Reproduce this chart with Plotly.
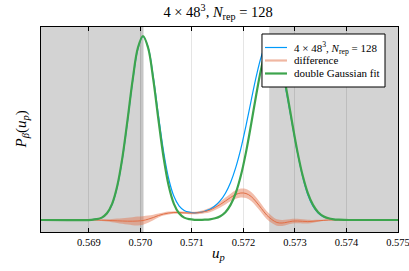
import plotly.graph_objects as go

# sample positions (u_p)
u_vals = [0.56807,
          0.56905, 0.56915, 0.56925, 0.56935, 0.56945, 0.56955, 0.56965, 0.56975, 0.56985, 0.56995,
          0.57005, 0.57015, 0.57025, 0.57035, 0.57045, 0.57055, 0.57065, 0.57075, 0.57085, 0.57095,
          0.57105, 0.57115, 0.57125, 0.57135, 0.57145, 0.57155, 0.57165, 0.57175, 0.57185, 0.57195,
          0.57205, 0.57215, 0.57225, 0.57235, 0.57245, 0.57255, 0.57265, 0.57275, 0.57285, 0.57295,
          0.57305, 0.57315, 0.57325, 0.57335, 0.57345, 0.57355, 0.57365, 0.57375, 0.57385, 0.57395,
          0.57405, 0.575]

hist_vals = [0.0,
             0.2, 0.8, 2.2, 6.3, 15.6, 33.2, 61.4, 98.9, 139.2, 171.0,
             183.5, 172.8, 142.9, 104.6, 68.4, 41.0, 23.7, 14.2, 9.6, 7.8,
             7.2, 7.6, 8.8, 10.7, 14.2, 19.3, 26.8, 37.6, 52.4, 71.4,
             94.4, 119.5, 143.8, 164.0, 176.3, 178.5, 168.8, 149.5, 123.6, 94.8,
             66.9, 43.1, 25.3, 13.8, 7.0, 3.4, 1.7, 0.7, 0.3, 0.1,
             0.0, 0.0]

fit_vals = [0.0,
            0.2, 0.8, 2.4, 6.7, 16.2, 34.0, 62.4, 100.1, 140.4, 172.0,
            184.0, 172.0, 140.4, 100.1, 62.4, 34.0, 16.2, 6.7, 2.4, 0.8,
            0.2, 0.1, 0.3, 0.7, 1.7, 3.8, 7.8, 15.1, 26.9, 44.4,
            67.9, 96.0, 125.8, 152.5, 171.3, 178.0, 171.3, 152.5, 125.8, 96.0,
            67.9, 44.4, 26.9, 15.1, 7.8, 3.8, 1.7, 0.7, 0.3, 0.1,
            0.0, 0.0]

diff_vals = [0.0,
             0.0, 0.0, -0.2, -0.4, -0.6, -0.8, -1.0, -1.2, -1.2, -1.0,
             -0.5, 0.8, 2.5, 4.5, 6.0, 7.0, 7.5, 7.5, 7.2, 7.0,
             7.0, 7.5, 8.5, 10.0, 12.5, 15.5, 19.0, 22.5, 25.5, 27.0,
             26.5, 23.5, 18.0, 11.5, 5.0, 0.5, -2.5, -3.0, -2.2, -1.2,
             -1.0, -1.3, -1.6, -1.3, -0.8, -0.4, 0.0, 0.0, 0.0, 0.0,
             0.0, 0.0]

diff_err = [0.3,
            0.3, 0.5, 0.8, 1.2, 1.7, 2.2, 2.8, 3.4, 4.0, 4.4,
            4.3, 3.6, 2.8, 2.0, 1.6, 1.4, 1.3, 1.2, 1.2, 1.2,
            1.3, 1.5, 1.8, 2.2, 2.6, 3.0, 3.4, 3.8, 4.2, 4.5,
            4.6, 4.6, 4.5, 4.3, 4.0, 3.6, 3.2, 2.9, 2.6, 2.4,
            2.3, 2.1, 1.8, 1.4, 1.0, 0.7, 0.5, 0.3, 0.3, 0.3,
            0.3, 0.3]

tick_vals = [0.569, 0.570, 0.571, 0.572, 0.573, 0.574, 0.575]
tick_text = ["0.569", "0.570", "0.571", "0.572", "0.573", "0.574", "0.575"]

series_names = ["4 × 48<sup>3</sup>, <i>N</i><sub>rep</sub> = 128",
                "difference", "double Gaussian fit"]

x_range = [0.56807, 0.5750004]
left_region = [0.56807, 0.57006]
right_region = [0.5725, 0.5750004]

BLUE = "#009afa"
ORANGE = "#e26f46"
GREEN = "#3da44d"
ORANGE_LIGHT = "rgba(226,111,70,0.5)"
SERIF = "Liberation Serif, DejaVu Serif, serif"

fig = go.Figure()

upper = [d + e for d, e in zip(diff_vals, diff_err)]
lower = [d - e for d, e in zip(diff_vals, diff_err)]
fig.add_trace(go.Scatter(
    x=u_vals + u_vals[::-1], y=upper + lower[::-1],
    fill="toself", fillcolor="rgba(226,111,70,0.45)",
    line=dict(width=0, shape="spline"), hoverinfo="skip", showlegend=False))

fig.add_trace(go.Scatter(
    x=u_vals, y=hist_vals, mode="lines", name=series_names[0], showlegend=False,
    line=dict(color=BLUE, width=1.2, shape="spline")))
fig.add_trace(go.Scatter(
    x=u_vals, y=diff_vals, mode="lines", name=series_names[1], showlegend=False,
    line=dict(color=ORANGE, width=1, shape="spline")))
fig.add_trace(go.Scatter(
    x=u_vals, y=fit_vals, mode="lines", name=series_names[2], showlegend=False,
    line=dict(color=GREEN, width=2.2, shape="spline")))

for x0, x1 in (left_region, right_region):
    fig.add_shape(type="rect", xref="x", yref="paper", x0=x0, x1=x1, y0=0, y1=1,
                  fillcolor="#d3d3d3", line=dict(width=0), layer="below")
fig.add_shape(type="rect", xref="x", yref="paper", x0=0.56999, x1=0.57006, y0=0, y1=1,
              fillcolor="rgba(0,0,0,0.06)", line=dict(width=0), layer="below")

# legend box (drawn in paper coordinates)
fig.add_shape(type="rect", xref="paper", yref="paper", x0=0.619, x1=0.9636,
              y0=0.7073, y1=0.9659, fillcolor="white",
              line=dict(color="black", width=1), layer="above")
legend_colors = [BLUE, ORANGE_LIGHT, GREEN]
legend_widths = [1.2, 2.2, 2.2]
legend_y = [0.900, 0.8366, 0.7732]
for name, col, w, ly in zip(series_names, legend_colors, legend_widths, legend_y):
    fig.add_shape(type="line", xref="paper", yref="paper", x0=0.6275, x1=0.689,
                  y0=ly, y1=ly, line=dict(color=col, width=w), layer="above")
    fig.add_annotation(xref="paper", yref="paper", x=0.703, y=ly, text=name,
                       showarrow=False, xanchor="left", yanchor="middle",
                       font=dict(size=11, family=SERIF, color="black"))

# axis titles
fig.add_annotation(xref="paper", yref="paper", x=0.496, y=-0.107,
                   text="<i>u</i><sub><i>p</i></sub>", showarrow=False,
                   xanchor="center", yanchor="middle",
                   font=dict(size=15, family=SERIF, color="black"))
fig.add_annotation(xref="paper", yref="paper", x=-0.056, y=0.5, textangle=-90,
                   text="<i>P</i><sub><i>β</i></sub>(<i>u</i><sub><i>p</i></sub>)",
                   showarrow=False, xanchor="center", yanchor="middle",
                   font=dict(size=15, family=SERIF, color="black"))

fig.update_layout(
    width=409, height=271,
    margin=dict(l=41, r=11, t=27, b=39, autoexpand=False),
    plot_bgcolor="white", paper_bgcolor="white",
    font=dict(family=SERIF, color="black"),
    showlegend=False,
    title=dict(text="4 × 48<sup>3</sup>, <i>N</i><sub>rep</sub> = 128",
               xref="paper", x=0.496, xanchor="center", y=0.955, yanchor="middle",
               font=dict(size=14.5, family=SERIF)),
    xaxis=dict(range=x_range, tickvals=tick_vals, ticktext=tick_text,
               ticks="inside", ticklen=4, tickcolor="black",
               ticklabeloverflow="allow", automargin=False,
               showline=True, linecolor="black", linewidth=1, mirror="allticks",
               showgrid=True, gridcolor="rgba(0,0,0,0.1)", gridwidth=1,
               zeroline=False, tickfont=dict(size=10.5, family=SERIF)),
    yaxis=dict(range=[-12, 193], showticklabels=False, ticks="", showgrid=False,
               automargin=False,
               zeroline=False, showline=True, linecolor="black", linewidth=1, mirror=True),
)

fig.write_html("out.html", config={"displayModeBar": False},
               post_script="document.body.style.margin='0';")
